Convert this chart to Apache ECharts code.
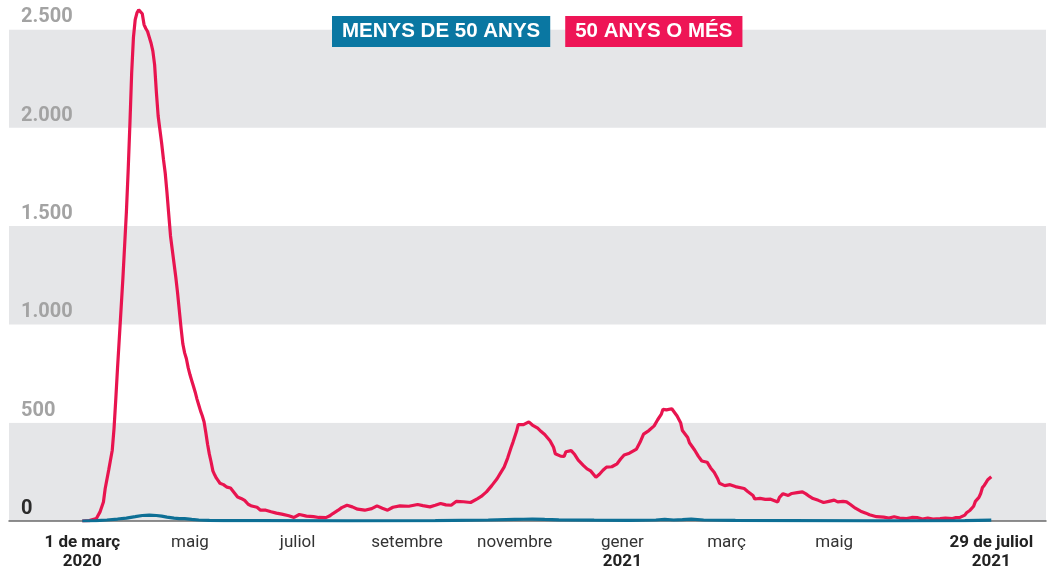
<!DOCTYPE html>
<html>
<head>
<meta charset="utf-8">
<script src="https://cdn.jsdelivr.net/npm/echarts@6/dist/echarts.min.js"></script>
<style>
html,body{margin:0;padding:0;background:#fff;}
#chart{width:1048px;height:570px;}
</style>
</head>
<body>
<div id="chart"></div>
<script>
// Days counted from 1 March 2020 (day 0) to 29 July 2021 (day 515)
const pinkDays = [0,4,8,10,12,13,15,16,17,18,19,20,21,22,23,24,25,26,27,28,29,30,31,32,33,34,35,36,37,38,39,40,41,42,43,44,45,46,47,48,49,50,51,52,53,54,55,56,57,58,59,60,61,62,63,64,65,66,67,68,69,70,71,72,73,74,75,76,77,78,80,82,84,86,88,90,92,94,96,99,101,104,107,110,113,117,120,123,127,131,134,138,140,142,145,147,150,153,156,160,164,167,170,173,176,180,185,190,193,197,200,203,206,209,212,216,220,224,226,229,232,235,237,239,241,243,244,246,247,248,250,253,255,258,260,262,265,267,268,271,273,274,277,279,281,284,286,288,291,293,295,297,300,303,305,307,310,314,316,318,321,324,326,328,329,331,334,335,337,339,340,343,344,347,349,351,354,356,358,360,361,364,367,370,375,377,380,381,384,387,390,394,395,397,400,402,405,408,410,412,414,417,420,423,426,428,431,433,435,438,441,444,446,450,454,457,460,463,467,470,473,476,479,482,486,489,493,495,497,500,501,503,505,506,508,509,510,511,512,513,514,515];
const pinkValues = [0,2,13,45,97,165,260,310,360,470,620,780,930,1080,1230,1400,1570,1780,2020,2280,2460,2550,2585,2600,2598,2580,2525,2505,2490,2460,2430,2390,2320,2180,2060,1990,1920,1840,1770,1670,1560,1450,1380,1310,1240,1160,1070,980,900,855,825,780,745,715,685,655,620,590,560,535,505,450,390,340,300,255,235,218,205,192,185,172,168,145,122,115,105,85,76,70,55,55,47,40,35,27,18,33,25,22,18,17,25,38,55,68,80,72,60,55,63,77,65,55,70,77,75,84,78,72,80,89,82,80,100,98,94,114,125,148,180,215,245,274,320,375,400,455,490,492,490,504,488,472,455,440,408,375,342,330,329,352,358,338,310,282,265,255,223,238,258,274,276,291,315,336,345,366,400,442,460,484,515,542,568,565,571,565,534,500,460,425,398,360,330,305,299,270,248,215,192,180,185,175,165,150,130,112,115,110,111,97,120,139,130,140,144,148,138,125,114,105,94,100,106,97,100,97,85,65,50,40,32,22,20,15,22,15,12,18,17,10,15,10,12,15,12,17,17,30,42,55,75,100,120,140,170,181,195,210,215,225];

const blueDays = [0,8,14,20,25,30,34,38,42,45,48,52,55,58,62,66,72,80,100,150,200,230,245,250,255,262,270,290,310,325,330,335,340,345,352,370,400,450,500,515];
const blueValues = [0,2,5,10,15,22,28,30,28,25,20,15,12,12,8,5,3,2,2,1,2,5,8,9,10,8,6,4,3,5,8,5,7,10,5,3,2,1,2,4];

const tickDays = [0,61,122,184,245,306,365,426,515];
const tickMonths = ['1 de març','maig','juliol','setembre','novembre','gener','març','maig','29 de juliol'];
const tickYears = ['2020','','','','','2021','','','2021'];
const yTicks = [0,500,1000,1500,2000,2500];

const seriesNames = ['MENYS DE 50 ANYS','50 ANYS O MÉS'];

const chart = echarts.init(document.getElementById('chart'));
const pinkData = pinkDays.map((d,i)=>[d,pinkValues[i]]);
const blueData = blueDays.map((d,i)=>[d,blueValues[i]]);

function fmtThousands(v){return String(v).replace(/\B(?=(\d{3})+(?!\d))/g,'.');}

const legendText = {color:'#fff', padding:[5,10,5,10], fontSize:20.5, fontWeight:'bold', fontFamily:'Liberation Sans', lineHeight:21};

chart.setOption({
  animation:false,
  grid:{left:9,right:2,top:0,bottom:44,containLabel:false},
  legend:{
    left:322, top:11, itemGap:10, itemWidth:0, itemHeight:0, selectedMode:false,
    data:[
      {name:seriesNames[0], icon:'none', textStyle:Object.assign({backgroundColor:'#0a77a2'}, legendText)},
      {name:seriesNames[1], icon:'none', textStyle:Object.assign({backgroundColor:'#ee1556'}, legendText)}
    ]
  },
  xAxis:{
    type:'value', min:-41.5, max:546,
    splitLine:{show:false},
    axisLine:{show:true, onZero:false, lineStyle:{color:'#6b6b6b', width:1.5}},
    axisTick:{show:false},
    axisLabel:{
      customValues:tickDays,
      margin:12,
      formatter:function(v){
        const i = tickDays.indexOf(v);
        if(i<0) return '';
        const bold = (i===0 || i===tickDays.length-1);
        let s = bold ? '{b|'+tickMonths[i]+'}' : '{n|'+tickMonths[i]+'}';
        if(tickYears[i]) s += '\n{b|'+tickYears[i]+'}';
        return s;
      },
      rich:{
        n:{fontFamily:'Roboto', fontSize:17, color:'#333', lineHeight:19},
        b:{fontFamily:'Roboto', fontSize:17, fontWeight:'bold', color:'#222', lineHeight:19}
      }
    }
  },
  yAxis:{
    type:'value', min:0, max:2650, interval:500,
    axisLine:{show:false}, axisTick:{show:false},
    splitLine:{show:false},
    splitArea:{show:true, areaStyle:{color:['#e5e6e8','#ffffff']}},
    axisLabel:{
      inside:true, margin:12, verticalAlign:'bottom', padding:[0,0,2,0],
      showMaxLabel:false,
      formatter:function(v){
        if(yTicks.indexOf(v)<0) return '';
        return v===0 ? '{z|0}' : '{g|'+fmtThousands(v)+'}';
      },
      rich:{
        g:{fontFamily:'Roboto', fontSize:20, fontWeight:'bold', color:'#a3a3a3'},
        z:{fontFamily:'Roboto', fontSize:20, fontWeight:'bold', color:'#2b2b2b'}
      }
    }
  },
  series:[
    {name:seriesNames[1], type:'line', data:pinkData, showSymbol:false, symbol:'none',
     lineStyle:{color:'#e8144f', width:3.2}, itemStyle:{color:'#ee1556'}, z:2},
    {name:seriesNames[0], type:'line', data:blueData, showSymbol:false, symbol:'none',
     lineStyle:{color:'#0d6f95', width:3.2}, itemStyle:{color:'#0a77a2'}, z:3}
  ]
});
</script>
</body>
</html>
